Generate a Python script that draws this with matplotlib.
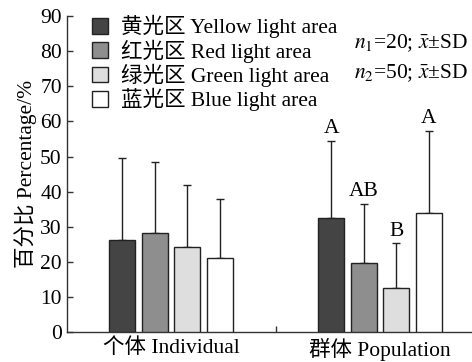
import matplotlib
matplotlib.use("Agg")
import matplotlib.pyplot as plt
import numpy as np

plt.rcParams['font.family'] = ['Liberation Serif', 'Noto Sans CJK SC']
plt.rcParams['mathtext.fontset'] = 'stix'

groups = ['个体 Individual', '群体 Population']
areas = ['黄光区 Yellow light area', '红光区 Red light area',
         '绿光区 Green light area', '蓝光区 Blue light area']
colors = ['#444444', '#8e8e8e', '#dedede', '#ffffff']

individual_mean = [26.2, 28.3, 24.3, 21.1]
individual_sd = [23.5, 20.2, 17.6, 16.9]
population_mean = [32.5, 19.8, 12.5, 34.0]
population_sd = [22.0, 16.8, 12.8, 23.3]
population_letters = ['A', 'AB', 'B', 'A']

means = np.array([individual_mean, population_mean])
sds = np.array([individual_sd, population_sd])

FS = 15.5

fig = plt.figure(figsize=(4.72, 3.62), dpi=100)
ax = fig.add_axes([0.1426, 0.082, 0.8574, 0.8738])

spacing = 0.156
width = 0.124
x = np.arange(len(groups))
edge = '#222222'

for i, (area, c) in enumerate(zip(areas, colors)):
    pos = x + (i - 1.5) * spacing
    ax.bar(pos, means[:, i], width, color=c, edgecolor=edge, linewidth=1.0,
           label=area, zorder=3)
    ax.errorbar(pos, means[:, i], yerr=[np.zeros(len(groups)), sds[:, i]],
                fmt='none', ecolor=edge, elinewidth=1.0, capsize=3,
                capthick=1.0, zorder=2)

for i, letter in enumerate(population_letters):
    pos = x[1] + (i - 1.5) * spacing
    top = population_mean[i] + population_sd[i]
    ax.text(pos, top + 0.7, letter, ha='center', va='bottom', fontsize=FS)

ax.set_xlim(-0.497, 1.44)
ax.set_ylim(0, 90)
ax.set_yticks(np.arange(0, 91, 10))
ax.set_xticks(x)
ax.set_xticklabels(groups, fontsize=FS)
ax.set_xticks([0.5], minor=True)
ax.tick_params(axis='x', which='major', length=0, pad=4)
ax.tick_params(axis='x', which='minor', direction='in', length=4, width=1,
               color='#333333')
ax.tick_params(axis='y', direction='in', length=4, width=1, color='#333333',
               labelsize=FS, pad=4)

for side in ('top', 'right'):
    ax.spines[side].set_visible(False)
for side in ('left', 'bottom'):
    ax.spines[side].set_color('#333333')
    ax.spines[side].set_linewidth(1.0)

ax.set_ylabel('百分比 Percentage/%', fontsize=FS, labelpad=2)

ax.legend(loc='upper left', bbox_to_anchor=(0.04, 1.03), frameon=False,
          fontsize=FS, handlelength=0.75, handleheight=0.75,
          handletextpad=0.6, labelspacing=0.05, borderaxespad=0)

fig.text(0.992, 0.88, r'$n_1$=20; $\bar{x}$±SD', ha='right', va='center',
         fontsize=FS)
fig.text(0.992, 0.797, r'$n_2$=50; $\bar{x}$±SD', ha='right', va='center',
         fontsize=FS)

fig.savefig('out.png', dpi=100)
